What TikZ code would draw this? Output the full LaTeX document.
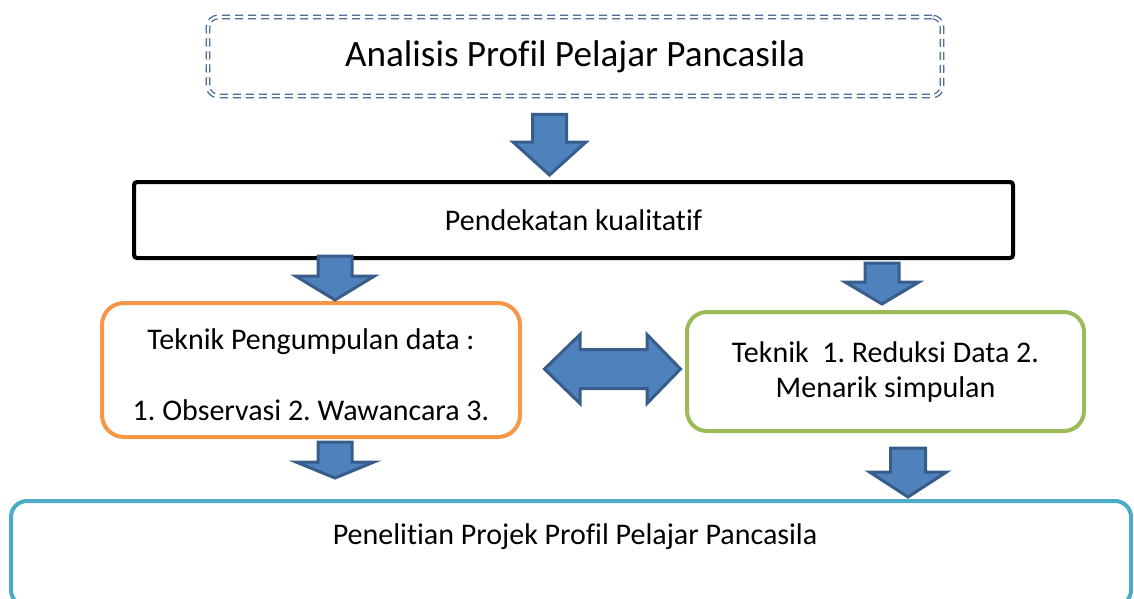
\documentclass[tikz,border=0pt]{standalone}
\usepackage{fontspec}
\setmainfont{Carlito}[Ligatures=NoCommon]
\usepackage{tikz}
\frenchspacing
\definecolor{panahisi}{RGB}{79,129,189}
\definecolor{panahtepi}{RGB}{56,93,138}
\definecolor{myorange}{RGB}{247,150,70}
\definecolor{mygreen}{RGB}{155,187,89}
\definecolor{myteal}{RGB}{75,172,198}
% Panah blok ke bawah: x tengah, y atas, y kepala, y ujung, setengah batang, setengah kepala
\newcommand{\panahbawah}[6]{%
	\filldraw[panah] (#1-#5,#2) -- (#1+#5,#2) -- (#1+#5,#3) -- (#1+#6,#3) -- (#1,#4) -- (#1-#6,#3) -- (#1-#5,#3) -- cycle;}

\begin{document}
\begin{tikzpicture}[x=0.5pt, y=-0.5pt, font=\fontsize{15}{18}\selectfont,
		panah/.style={fill=panahisi, draw=panahtepi, line width=1.5pt, line join=miter},
		kotak/.style={draw, line width=2pt, inner sep=0pt}]
				\useasboundingbox (0,0) rectangle (1134,599);
				% Kotak judul
				\node[draw=panahtepi, double=white, line width=0.6pt, double distance=1.2pt, dash pattern=on 4pt off 2.5pt,
					rounded corners=5pt, minimum width=367pt, minimum height=39.5pt] (analisis) at (575,56.5)
					{\fontsize{18.6}{22}\selectfont Analisis Profil Pelajar Pancasila};
				% Pendekatan
				\node[kotak, rounded corners=1.5pt, minimum width=439.5pt, minimum height=38pt] (kualitatif) at (573.5,220) {Pendekatan kualitatif};
				% Teknik pengumpulan dan analisis data
				\node[kotak, draw=myorange, rounded corners=11pt, minimum width=209pt, minimum height=67pt] (kumpul) at (311,370) {};
				\node (kumpulA) at (311,342) {Teknik Pengumpulan data :};
				\node (kumpulB) at (311,410) {1. Observasi 2. Wawancara 3.};
				\node[kotak, draw=mygreen, rounded corners=10pt, minimum width=198.5pt, minimum height=59.5pt,
					align=center, font=\fontsize{15}{17.5}\selectfont] (reduksi) at (885.5,371.5) {Teknik\ \ 1. Reduksi Data 2.\\Menarik simpulan};
				% Penelitian
				\begin{scope}
					\clip (0,0) rectangle (1134,599);
					\node[kotak, draw=myteal, rounded corners=8pt, minimum width=560pt, minimum height=52.5pt] (penelitian) at (571,553.5) {};
				\end{scope}
				\node (penelitianA) at (575,537) {Penelitian Projek Profil Pelajar Pancasila};
				% Panah
				\panahbawah{549.5}{114.5}{142}{175}{17}{36.5}
				\panahbawah{335}{256}{276}{300}{17}{39.5}
				\panahbawah{882}{263}{282}{304}{17}{37}
				\panahbawah{335}{442}{462}{478}{17}{39}
				\panahbawah{908}{448}{472}{497}{17.5}{38.5}
				\filldraw[panah] (544.5,369) -- (580,334.5) -- (580,349.5) -- (647,349.5) -- (647,334.5) -- (680.5,369)
					-- (647,403.5) -- (647,388.5) -- (580,388.5) -- (580,403.5) -- cycle;
		\end{tikzpicture}
\end{document}
